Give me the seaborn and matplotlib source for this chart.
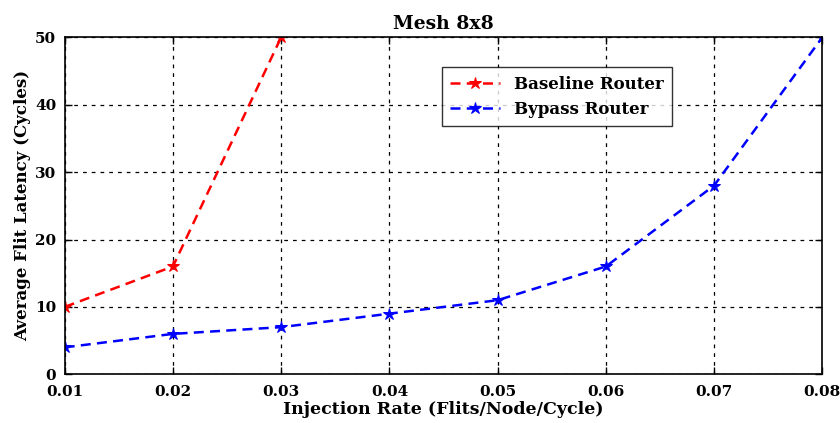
import pandas as pd
import numpy as np
import matplotlib
matplotlib.use("Agg")
import matplotlib.pyplot as plt
import seaborn as sb

# data
baseline_x = [0.01, 0.02, 0.03]
baseline_y = [10, 16, 50]
bypass_x = [0.01, 0.02, 0.03, 0.04, 0.05, 0.06, 0.07, 0.08]
bypass_y = [4, 6, 7, 9, 11, 16, 28, 50]
x_ticks = [0.01, 0.02, 0.03, 0.04, 0.05, 0.06, 0.07, 0.08]
y_ticks = [0, 10, 20, 30, 40, 50]

df = pd.concat([
    pd.DataFrame({'rate': baseline_x, 'latency': baseline_y, 'router': 'Baseline Router'}),
    pd.DataFrame({'rate': bypass_x, 'latency': bypass_y, 'router': 'Bypass Router'}),
])

sb.set_style('ticks')
plt.rcParams['font.family'] = ['DejaVu Serif']
plt.rcParams['font.weight'] = 'bold'
plt.rcParams['text.color'] = 'black'
plt.rcParams['axes.labelcolor'] = 'black'
plt.rcParams['xtick.color'] = 'black'
plt.rcParams['ytick.color'] = 'black'

fig = plt.figure(figsize=(8.4, 4.23), dpi=100)
ax = fig.add_axes([0.077, 0.115, 0.902, 0.797])

sb.lineplot(data=df, x='rate', y='latency', hue='router',
            palette={'Baseline Router': '#ff0000', 'Bypass Router': '#0000ff'},
            marker='*', markersize=9, linewidth=1.8,
            dashes=False, linestyle=(0, (4, 2.5)), ax=ax)
for ln in ax.lines:
    ln.set_markeredgecolor(ln.get_color())
    ln.set_markerfacecolor(ln.get_color())

ax.set_xlim(0.01, 0.08)
ax.set_ylim(0, 50)
ax.set_xticks(x_ticks)
ax.set_xticklabels([f'{v:.2f}' for v in x_ticks])
ax.set_yticks(y_ticks)
ax.tick_params(direction='in', top=True, right=True, labelsize=11, length=5, width=1)
ax.tick_params(axis='x', pad=8)
ax.tick_params(axis='y', pad=6)
for lab in ax.get_xticklabels() + ax.get_yticklabels():
    lab.set_fontweight('bold')
ax.grid(True, color='black', linestyle=(0, (3, 4)), linewidth=0.9)
for s in ax.spines.values():
    s.set_linewidth(1.2)
    s.set_color('black')

ax.set_xlabel('Injection Rate (Flits/Node/Cycle)', fontsize=12.5, fontweight='bold', labelpad=1)
ax.set_ylabel('Average Flit Latency (Cycles)', fontsize=12, fontweight='bold', labelpad=3)
ax.set_title('Mesh 8x8', fontsize=13.5, fontweight='bold', pad=6)

leg = ax.legend(loc='upper left', bbox_to_anchor=(0.487, 0.935), fontsize=12,
                frameon=True, fancybox=False, edgecolor='black', handlelength=3.0,
                borderpad=0.5, labelspacing=0.5)
leg.get_frame().set_linewidth(1.0)
for t in leg.get_texts():
    t.set_fontweight('bold')
for h in leg.get_lines():
    h.set_markeredgecolor(h.get_color())
    h.set_markerfacecolor(h.get_color())

fig.savefig('out.png', dpi=100)
